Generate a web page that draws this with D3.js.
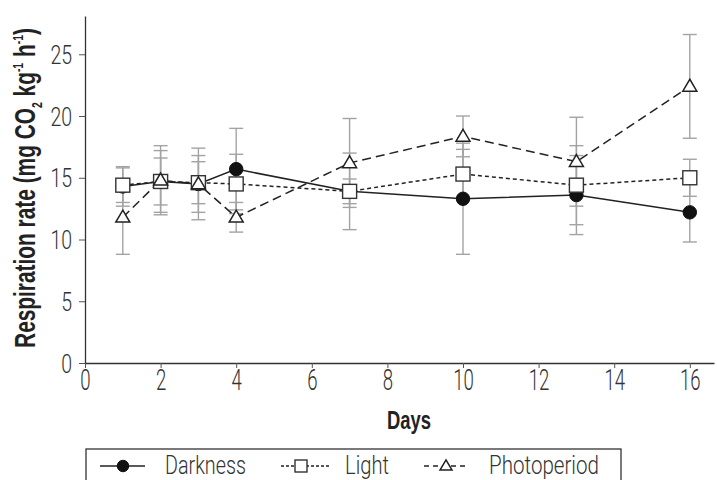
<!DOCTYPE html>
<html>
<head>
<meta charset="utf-8">
<script src="https://cdn.jsdelivr.net/npm/d3@7"></script>
<style>
body { margin:0; background:#fff; }
</style>
</head>
<body>
<svg id="vis"></svg>
<script>
//Data
var days = [1, 2, 3, 4, 7, 10, 13, 16];
var darkness = [14.3, 14.7, 14.5, 15.7, 13.9, 13.3, 13.6, 12.2];
var darknessErr = [1.6, 1.9, 2.3, 3.3, 3.1, 4.5, 3.2, 2.4];
var light = [14.4, 14.7, 14.6, 14.5, 13.9, 15.3, 14.4, 15.0];
var lightErr = [1.4, 2.5, 1.7, 2.4, 1.0, 2.0, 3.2, 1.5];
var photoperiod = [11.8, 14.8, 14.5, 11.8, 16.2, 18.35, 16.3, 22.4];
var photoperiodErr = [3.0, 2.8, 2.9, 1.2, 3.6, 1.65, 3.6, 4.2];
var xTicks = [0, 2, 4, 6, 8, 10, 12, 14, 16];
var yTicks = [0, 5, 10, 15, 20, 25];
var seriesNames = ["Darkness", "Light", "Photoperiod"];

//Canvas parameters
var width = 717;
var height = 480;
var lightFont = "Roboto, 'Liberation Sans', sans-serif";
var boldFont = "'Liberation Sans', Arial, sans-serif";

const svg = d3.select("#vis").attr("width", width).attr("height", height);

var x = d3.scaleLinear().domain([0, 16.64]).range([85, 714]);
var y = d3.scaleLinear().domain([0, 28.1]).range([363, 16]);

//squeeze a text horizontally so it spans the wanted width (fakes the condensed face)
function fitText(sel, tx, ty, target, rot){
    var w = sel.node().getComputedTextLength();
    sel.attr("transform", "translate(" + tx + "," + ty + ")" + (rot ? " rotate(" + rot + ")" : "") + " scale(" + (target / w) + ",1)");
}

//Build the series
var series = [
    {name: seriesNames[0], values: darkness, err: darknessErr, dash: null, shape: "circle"},
    {name: seriesNames[1], values: light, err: lightErr, dash: "4,3", shape: "square"},
    {name: seriesNames[2], values: photoperiod, err: photoperiodErr, dash: "9,5", shape: "triangle"}
];
series.forEach(function(s){
    s.points = days.map(function(d, i){ return {day: d, v: s.values[i], e: s.err[i]}; });
});

//Axes
var xAxis = svg.append("g").attr("transform", "translate(0," + y(0) + ")")
    .call(d3.axisBottom(x).tickValues(xTicks).tickSize(5).tickPadding(4).tickSizeOuter(0));
var yAxis = svg.append("g").attr("transform", "translate(" + x(0) + ",0)")
    .call(d3.axisLeft(y).tickValues(yTicks).tickSize(6).tickPadding(6).tickSizeOuter(0));

[xAxis, yAxis].forEach(function(a){
    a.select(".domain").attr("stroke", "#333").attr("stroke-width", 1.3);
    a.selectAll(".tick line").attr("stroke", "#555").attr("stroke-width", 1);
    a.selectAll(".tick text")
        .style("font-family", lightFont)
        .style("font-weight", 300)
        .attr("fill", "#333");
});
xAxis.selectAll(".tick text")
    .style("font-size", "30px")
    .attr("y", 6).attr("dy", "0.71em")
    .attr("transform", "scale(0.62,1)");
yAxis.selectAll(".tick text")
    .style("font-size", "25px")
    .attr("x", -13 / 0.78)
    .attr("dy", "0.36em")
    .attr("transform", "scale(0.78,1)");

//Axis titles
var xTitle = svg.append("text")
    .attr("text-anchor", "middle")
    .style("font-family", boldFont)
    .style("font-weight", "bold")
    .style("font-size", "25px")
    .attr("fill", "#222")
    .text("Days");
fitText(xTitle, 409, 429, 44);

var yTitle = svg.append("text")
    .attr("text-anchor", "middle")
    .style("font-family", boldFont)
    .style("font-weight", "bold")
    .style("font-size", "30px")
    .attr("fill", "#222");
yTitle.append("tspan").text("Respiration rate (mg CO");
yTitle.append("tspan").attr("dy", 7).style("font-size", "15px").text("2");
yTitle.append("tspan").attr("dy", -7).text(" kg");
yTitle.append("tspan").attr("dy", -12).style("font-size", "15px").text("-1");
yTitle.append("tspan").attr("dy", 12).text(" h");
yTitle.append("tspan").attr("dy", -12).style("font-size", "15px").text("-1");
yTitle.append("tspan").attr("dy", 12).text(")");
fitText(yTitle, 35, 188, 320, -90);

//Error bars
var errG = svg.append("g").attr("class", "errors");
series.forEach(function(s){
    var g = errG.selectAll(null).data(s.points).enter().append("g");
    g.append("line")
        .attr("x1", function(d){ return x(d.day); })
        .attr("x2", function(d){ return x(d.day); })
        .attr("y1", function(d){ return y(d.v - d.e); })
        .attr("y2", function(d){ return y(d.v + d.e); });
    [-1, 1].forEach(function(sign){
        g.append("line")
            .attr("x1", function(d){ return x(d.day) - 7; })
            .attr("x2", function(d){ return x(d.day) + 7; })
            .attr("y1", function(d){ return y(d.v + sign * d.e); })
            .attr("y2", function(d){ return y(d.v + sign * d.e); });
    });
});
errG.selectAll("line").attr("stroke", "#a3a3a3").attr("stroke-width", 1.4);

//Lines
var line = d3.line().x(function(d){ return x(d.day); }).y(function(d){ return y(d.v); });
series.forEach(function(s){
    svg.append("path")
        .datum(s.points)
        .attr("d", line)
        .attr("fill", "none")
        .attr("stroke", "#222")
        .attr("stroke-width", 1.5)
        .attr("stroke-dasharray", s.dash);
});

//Markers
function drawMarker(sel, shape, size){
    if(shape == "circle"){
        sel.append("circle").attr("r", size * 0.48).attr("fill", "#111").attr("stroke", "#111");
    }
    else if(shape == "square"){
        sel.append("rect").attr("x", -size/2).attr("y", -size/2).attr("width", size).attr("height", size)
            .attr("fill", "#fff").attr("stroke", "#333").attr("stroke-width", 1.4);
    }
    else{
        var h = size * 0.85;
        sel.append("path")
            .attr("d", "M0," + (-h * 0.6) + "L" + (size/2) + "," + (h * 0.4) + "L" + (-size/2) + "," + (h * 0.4) + "Z")
            .attr("fill", "#fff").attr("stroke", "#222").attr("stroke-width", 1.5);
    }
}

series.forEach(function(s){
    svg.append("g").selectAll("g")
        .data(s.points)
        .enter()
        .append("g")
        .attr("transform", function(d){ return "translate(" + x(d.day) + "," + y(d.v) + ")"; })
        .each(function(){ drawMarker(d3.select(this), s.shape, 14); });
});

//Legend
var legend = svg.append("g").attr("class", "legend");
legend.append("rect")
    .attr("x", 86).attr("y", 449).attr("width", 535).attr("height", 50)
    .attr("fill", "none").attr("stroke", "#333").attr("stroke-width", 1.3);

var legendItems = [
    {s: series[0], x1: 100, x2: 145, mx: 123, tx: 165, tw: 81},
    {s: series[1], x1: 281, x2: 330, mx: 301, tx: 345, tw: 44},
    {s: series[2], x1: 424, x2: 469, mx: 446, tx: 489, tw: 110}
];
legendItems.forEach(function(it){
    var ly = 466;
    legend.append("line")
        .attr("x1", it.x1).attr("x2", it.x2).attr("y1", ly).attr("y2", ly)
        .attr("stroke", "#222").attr("stroke-width", 1.4)
        .attr("stroke-dasharray", it.s.dash ? (it.s.shape == "square" ? "3,2" : "5,4") : null);
    var m = legend.append("g").attr("transform", "translate(" + it.mx + "," + ly + ")");
    drawMarker(m, it.s.shape, 12);
    var t = legend.append("text")
        .style("font-family", lightFont)
        .style("font-weight", 300)
        .style("font-size", "25px")
        .attr("fill", "#333")
        .text(it.s.name);
    fitText(t, it.tx, ly + 8, it.tw);
});
</script>
</body>
</html>
